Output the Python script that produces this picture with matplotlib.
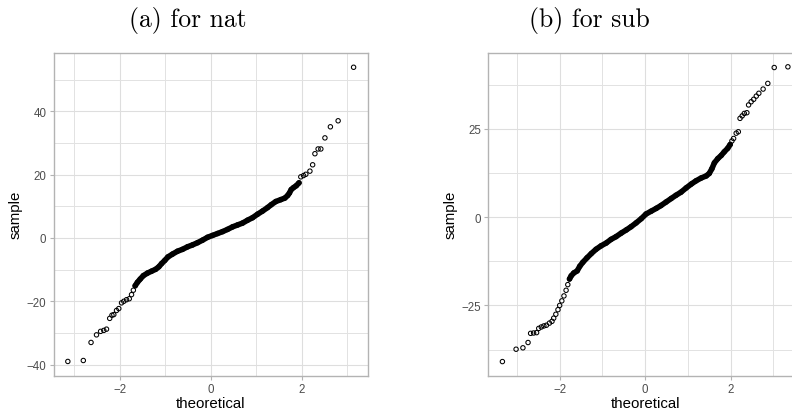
import matplotlib
matplotlib.use("Agg")
import matplotlib.pyplot as plt
from matplotlib.ticker import FixedLocator

plt.rcParams['font.family'] = ['Liberation Sans', 'DejaVu Sans']

# (a) nat: points
nat_low_theo = [-3.14, -2.80, -2.63, -2.51, -2.42, -2.35, -2.29, -2.22, -2.17, -2.13,
                -2.07, -2.02, -1.96, -1.91, -1.85, -1.79, -1.74, -1.70]
nat_low_samp = [-39.0, -38.7, -33.0, -30.6, -29.5, -29.2, -28.8, -25.4, -24.4, -24.2,
                -22.9, -22.3, -20.5, -20.0, -19.5, -19.2, -17.9, -16.5]
nat_body_theo = [-1.66, -1.61, -1.55, -1.48, -1.39, -1.30, -1.21, -1.14, -1.08, -1.01,
                 -0.94, -0.84, -0.73, -0.62, -0.51, -0.40, -0.29, -0.18, -0.07, 0.04,
                 0.15, 0.26, 0.37, 0.48, 0.59, 0.70, 0.81, 0.92, 1.03, 1.14,
                 1.25, 1.33, 1.43, 1.54, 1.63, 1.69, 1.73, 1.77, 1.82, 1.88, 1.94]
nat_body_samp = [-15.1, -14.0, -13.0, -11.9, -11.1, -10.5, -9.9, -9.1, -8.1, -7.1,
                 -6.0, -5.1, -4.2, -3.6, -2.8, -2.2, -1.5, -0.7, 0.2, 0.8,
                 1.4, 2.0, 2.7, 3.5, 4.1, 4.7, 5.6, 6.4, 7.5, 8.5,
                 9.6, 10.5, 11.5, 12.1, 12.6, 13.4, 14.2, 15.3, 15.9, 16.5, 17.4]
nat_high_theo = [1.98, 2.04, 2.09, 2.18, 2.24, 2.29, 2.36, 2.42, 2.51, 2.63, 2.80, 3.14]
nat_high_samp = [19.3, 19.7, 20.1, 21.1, 23.1, 26.6, 28.1, 28.1, 31.6, 35.1, 37.0, 53.9]

# (b) sub
sub_low_theo = [-3.34, -3.02, -2.86, -2.74, -2.68, -2.61, -2.54, -2.49, -2.43, -2.37,
                -2.31, -2.24, -2.18, -2.14, -2.09, -2.04, -2.00, -1.95, -1.90, -1.85, -1.81]
sub_low_samp = [-40.9, -37.4, -37.0, -35.5, -32.9, -32.8, -32.7, -31.5, -31.1, -30.8,
                -30.6, -30.0, -29.5, -28.6, -27.5, -26.2, -25.0, -23.7, -22.3, -20.7, -19.1]
sub_body_theo = [-1.77, -1.73, -1.67, -1.59, -1.53, -1.46, -1.36, -1.26, -1.15, -1.03,
                 -0.91, -0.80, -0.68, -0.56, -0.44, -0.33, -0.21, -0.09, 0.02, 0.14,
                 0.26, 0.37, 0.49, 0.61, 0.72, 0.84, 0.96, 1.08, 1.19, 1.31,
                 1.43, 1.50, 1.56, 1.62, 1.70, 1.78, 1.85, 1.93, 1.99]
sub_body_samp = [-17.5, -16.6, -15.8, -15.2, -13.9, -12.8, -11.5, -10.3, -9.1, -8.1,
                 -7.3, -6.3, -5.5, -4.5, -3.6, -2.7, -1.6, -0.4, 0.9, 1.7,
                 2.5, 3.3, 4.3, 5.3, 6.2, 7.1, 8.3, 9.4, 10.3, 11.1,
                 11.7, 12.4, 13.7, 15.4, 16.6, 17.5, 18.5, 19.5, 20.6]
sub_high_theo = [2.03, 2.07, 2.13, 2.18, 2.22, 2.27, 2.32, 2.38, 2.42, 2.48,
                 2.54, 2.60, 2.66, 2.76, 2.87, 3.02, 3.34]
sub_high_samp = [21.6, 22.3, 23.8, 24.2, 28.0, 28.7, 29.4, 29.6, 31.8, 32.7,
                 33.4, 34.3, 35.1, 36.3, 37.9, 42.4, 42.6]

x_major = [-2, 0, 2]
x_minor = [-3, -1, 1, 3]
nat_y_major = [-40, -20, 0, 20, 40]
nat_y_minor = [-30, -10, 10, 30, 50]
sub_y_major = [-25, 0, 25]
sub_y_minor = [-37.5, -12.5, 12.5, 37.5]


def qq_panel(ax, low, body, high, xlim, ylim, ymaj, ymin):
    # dense middle: overlapping circles form a solid band
    ax.plot(body[0], body[1], color="black", lw=4.0, solid_capstyle="round",
            solid_joinstyle="round", zorder=3)
    for t, s in (low, body, high):
        ax.scatter(t, s, s=10, facecolors="none", edgecolors="black",
                   linewidths=0.75, zorder=4)
    ax.set_xlim(*xlim)
    ax.set_ylim(*ylim)
    ax.xaxis.set_major_locator(FixedLocator(x_major))
    ax.xaxis.set_minor_locator(FixedLocator(x_minor))
    ax.yaxis.set_major_locator(FixedLocator(ymaj))
    ax.yaxis.set_minor_locator(FixedLocator(ymin))
    ax.grid(True, which="major", color="#DEDEDE", lw=0.8)
    ax.grid(True, which="minor", color="#E2E2E2", lw=0.7)
    ax.set_axisbelow(True)
    for sp in ax.spines.values():
        sp.set_color("#B3B3B3")
        sp.set_linewidth(1.0)
    ax.tick_params(which="major", color="#B3B3B3", length=3.2, width=0.8,
                   labelcolor="#4D4D4D", labelsize=8.3, pad=2)
    ax.tick_params(which="minor", length=0)
    ax.set_xlabel("theoretical", fontsize=10.8, labelpad=1)
    ax.set_ylabel("sample", fontsize=10.8, labelpad=3)


fig = plt.figure(figsize=(7.92, 4.14), dpi=100)
ax1 = fig.add_axes([53.5 / 792, 1 - 376.7 / 414, 314.2 / 792, 323 / 414])
ax2 = fig.add_axes([488.3 / 792, 1 - 376.7 / 414, 313.7 / 792, 323 / 414])

qq_panel(ax1, (nat_low_theo, nat_low_samp), (nat_body_theo, nat_body_samp),
         (nat_high_theo, nat_high_samp), (-3.455, 3.45), (-43.5, 58.5),
         nat_y_major, nat_y_minor)
qq_panel(ax2, (sub_low_theo, sub_low_samp), (sub_body_theo, sub_body_samp),
         (sub_high_theo, sub_high_samp), (-3.67, 3.67), (-44.9, 46.6),
         sub_y_major, sub_y_minor)

fig.text(188 / 792, 1 - 21 / 414, "(a) for nat", family="cmr10", fontsize=18.5,
         ha="center", va="center")
fig.text(589 / 792, 1 - 21 / 414, "(b) for sub", family="cmr10", fontsize=18.5,
         ha="center", va="center")

fig.savefig("out.png", dpi=100)
